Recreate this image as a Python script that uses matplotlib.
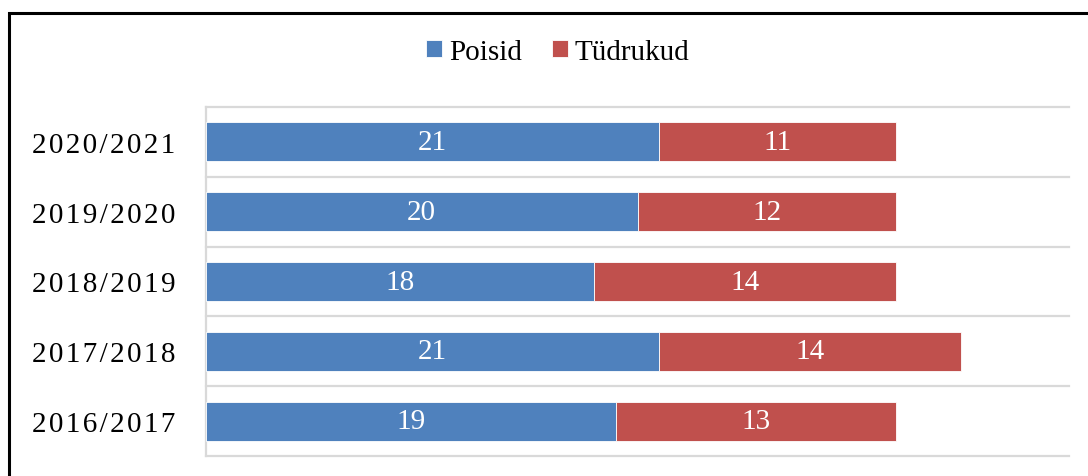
import matplotlib
matplotlib.use("Agg")
import matplotlib.pyplot as plt
from matplotlib.patches import Rectangle

categories = ["2020/2021", "2019/2020", "2018/2019", "2017/2018", "2016/2017"]
poisid = [21, 20, 18, 21, 19]
tydrukud = [11, 12, 14, 14, 13]
series_names = ["Poisid", "Tüdrukud"]
colors = ["#4F81BD", "#C0504D"]

plt.rcParams['font.family'] = ['Liberation Serif', 'DejaVu Serif']

W, H = 1088, 477
fig = plt.figure(figsize=(W / 100, H / 100), dpi=100)
ax = fig.add_axes([206 / W, 1 - 457 / H, (1069 - 206) / W, (457 - 108) / H])

n = len(categories)
ypos = list(range(n))[::-1]  # top category first
bh = 0.56
b1 = ax.barh(ypos, poisid, height=bh, color=colors[0], edgecolor="#FFFFFF", linewidth=0.6, label=series_names[0], zorder=3)
b2 = ax.barh(ypos, tydrukud, left=poisid, height=bh, color=colors[1], edgecolor="#FFFFFF", linewidth=0.6, label=series_names[1], zorder=3)

for bars in (b1, b2):
    ax.bar_label(bars, labels=[str(int(b.get_width())) for b in bars], label_type="center",
                 color="white", fontsize=21)

ax.set_xlim(0, 40)
ax.set_ylim(-0.5, n - 0.5)
ax.set_xticks([])
ax.set_yticks(ypos)
spaced = ["\u200a".join(list(c)) for c in categories]
ax.set_yticklabels(spaced, fontsize=21)
ax.tick_params(axis="y", length=0, pad=22)

# gridlines between categories
for k in range(n + 1):
    ax.axhline(k - 0.5, color="#D9D9D9", linewidth=1.6, zorder=1, clip_on=False)
for s in ["top", "right", "bottom"]:
    ax.spines[s].set_visible(False)
ax.spines["left"].set_color("#D9D9D9")
ax.spines["left"].set_linewidth(1.6)

leg = fig.legend(handles=[b1, b2], labels=series_names, loc="center",
                 bbox_to_anchor=(558 / W, 1 - 53 / H), ncol=2, frameon=False,
                 fontsize=21, handlelength=0.55, handleheight=0.55,
                 handletextpad=0.25, columnspacing=1.0)

# outer frame (cut off at right and bottom)
fig.patches.append(Rectangle((9 / W, -0.2), 1.5, 1.2 - 14 / H, transform=fig.transFigure,
                             fill=False, edgecolor="black", linewidth=2.2))

fig.savefig("out.png", dpi=100)
